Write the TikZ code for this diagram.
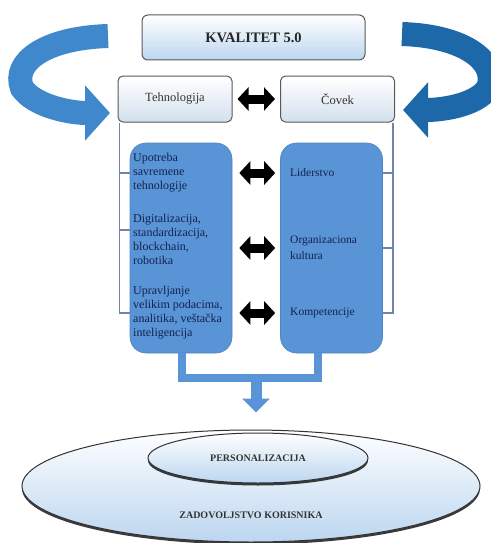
\documentclass[tikz,border=0pt]{standalone}
\usepackage{fontspec}
\setmainfont{Liberation Serif}
\usetikzlibrary{shapes.geometric, arrows.meta, positioning, calc, shadows}
\definecolor{boxblue}{RGB}{88,148,214}
\definecolor{darkblue}{RGB}{28,104,168}
\definecolor{midblue}{RGB}{64,136,204}
\definecolor{paleblue}{RGB}{188,214,240}
\definecolor{palegray}{RGB}{212,224,238}
\definecolor{linegray}{RGB}{112,132,165}
\definecolor{navytext}{RGB}{20,34,78}

\tikzset{
  headbox/.style={draw=black!65, line width=1pt, rounded corners=6pt, top color=white, bottom color=paleblue,
    minimum width=223pt, minimum height=45pt, font=\bfseries\fontsize{14.5}{16}\selectfont, text=black!85},
  smallbox/.style={draw=black!65, line width=1pt, rounded corners=5pt, top color=white, bottom color=palegray,
    minimum width=114pt, minimum height=46pt, font=\fontsize{12.5}{14}\selectfont, text=black!80},
  bluebox/.style={fill=boxblue, draw=boxblue!90!black, line width=0.6pt, rounded corners=16pt,
    minimum width=102pt, minimum height=210pt},
  lefttext/.style={align=left, inner sep=0pt, text=navytext, font=\fontsize{12}{14}\selectfont},
  righttext/.style={align=left, inner sep=0pt, text=navytext, font=\fontsize{11.5}{16}\selectfont},
  dblarrow/.style={line width=9pt, black, {Triangle[length=11pt, width=23pt]}-{Triangle[length=11pt, width=23pt]}},
  bracket/.style={linegray, line width=1.6pt},
  looparrow/.style={line width=24pt, -{Triangle[length=25pt, width=54pt]}},
  joinline/.style={boxblue, line width=8pt},
  ellnode/.style={ellipse, draw=black!80, line width=1pt, top color=white, bottom color=paleblue, inner sep=0pt,
    drop shadow={shadow xshift=0pt, shadow yshift=-2.5pt, fill=black!85, opacity=0.9}},
  elltext/.style={inner sep=0pt, text=black!80, font=\bfseries\fontsize{10}{12}\selectfont}
}

\begin{document}
\begin{tikzpicture}[x=1pt, y=-1pt]
\useasboundingbox (0,0) rectangle (490,543);
\fill[white] (0,0) rectangle (490,543);

% Curved arrows
\draw[looparrow, midblue] (108,36) .. controls (45,38) and (12,62) .. (22,88) .. controls (34,106) and (70,113) .. (110,113);
\draw[looparrow, darkblue] (402,34) .. controls (465,36) and (498,62) .. (488,88) .. controls (476,106) and (440,110) .. (403,110);

% Top boxes
\node[headbox] (kval) at (253.5,37.5) {KVALITET 5.0};
\node[smallbox] (teh) at (175,99) {Tehnologija};
\node[smallbox] (cov) at (337.5,99) {Čovek};
\draw[dblarrow, shorten <=5pt, shorten >=5pt] (teh.east) -- (cov.west);

% Blue boxes
\node[bluebox] (lbox) at (181,248) {};
\node[bluebox] (rbox) at (331.5,248) {};

\node[lefttext, anchor=west] (l1) at (133,173) {Upotreba\\savremene\\tehnologije};
\node[lefttext, anchor=west] (l2) at (133,239) {Digitalizacija,\\standardizacija,\\blockchain,\\robotika};
\node[lefttext, anchor=west] (l3) at (133,313) {Upravljanje\\velikim podacima,\\analitika, veštačka\\inteligencija};

\node[righttext, anchor=west] (r1) at (290,173) {Liderstvo};
\node[righttext, anchor=west] (r2) at (290,248) {Organizaciona\\kultura};
\node[righttext, anchor=west] (r3) at (290,313) {Kompetencije};

% Arrows between
\draw[dblarrow, shorten <=7pt, shorten >=5pt] (lbox.east |- r1) -- (rbox.west |- r1);
\draw[dblarrow, shorten <=7pt, shorten >=5pt] (lbox.east |- r2) -- (rbox.west |- r2);
\draw[dblarrow, shorten <=7pt, shorten >=5pt] (lbox.east |- r3) -- (rbox.west |- r3);

% Brackets
\draw[bracket] ([xshift=2pt]teh.south west) |- (lbox.west |- l3);
\draw[bracket] (lbox.west |- l1) -- ++(-10,0);
\draw[bracket] (lbox.west |- 0,230) -- ++(-10,0);
\draw[bracket] ([xshift=-2pt]cov.south east) |- (rbox.east |- r3);
\draw[bracket] (rbox.east |- r1) -- ++(10,0);
\draw[bracket] (rbox.east |- r2) -- ++(10,0);

% Ellipses
\node[ellnode, minimum width=458pt, minimum height=112pt] (zad) at (251,486) {};
\node[ellnode, minimum width=220pt, minimum height=50pt] (pers) at (258,458) {};
\node[elltext] (perslbl) at (pers) {PERSONALIZACIJA};
\node[elltext] (zadlbl) at ($(zad.south)+(0,-27)$) {ZADOVOLJSTVO KORISNIKA};

% Join and down arrow
\coordinate (jl) at (182,378);
\coordinate (jr) at (318,378);
\coordinate (jm) at (256,378);
\draw[joinline] (lbox.south -| jl) -- (jl) -- (jr) -- (rbox.south -| jr);
\draw[boxblue, line width=11pt, -{Triangle[length=14pt, width=27pt]}, shorten >=17pt] (jm) -- (jm |- zad.north);
\end{tikzpicture}
\end{document}
